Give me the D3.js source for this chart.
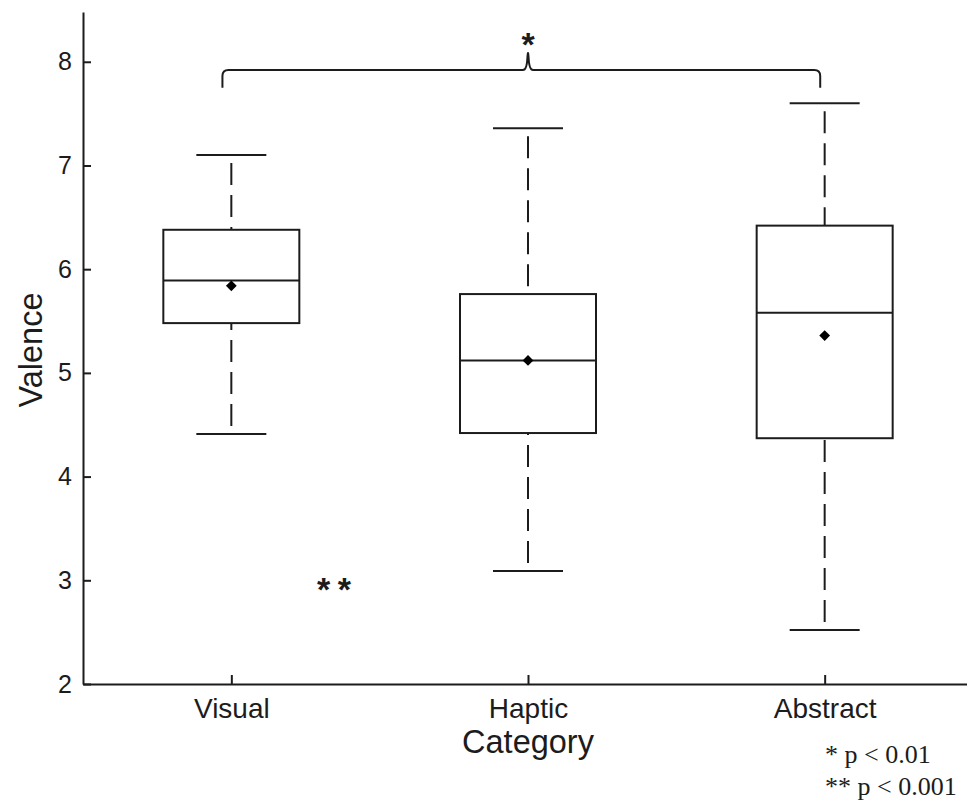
<!DOCTYPE html>
<html>
<head>
<meta charset="utf-8">
<script src="https://cdn.jsdelivr.net/npm/d3@7"></script>
<style>
  html, body { margin: 0; padding: 0; background: #fff; }
  svg { display: block; }
  text { font-family: "Liberation Sans", Arial, Helvetica, sans-serif; fill: #1c1c1c; }
  .note { font-family: "Liberation Serif", "Times New Roman", serif; }
  .star { font-weight: bold; font-size: 34px; }
</style>
</head>
<body>
<svg id="chart" width="967" height="804"></svg>
<script>
// Category labels and box-plot summary statistics (valence ratings)
const categories = ["Visual", "Haptic", "Abstract"];
const whiskerLow  = [4.41, 3.09, 2.52];
const quartile1   = [5.48, 4.42, 4.37];
const medians     = [5.89, 5.12, 5.58];
const quartile3   = [6.38, 5.76, 6.42];
const whiskerHigh = [7.10, 7.36, 7.60];
const means       = [5.84, 5.12, 5.36];

const yTicks = [2, 3, 4, 5, 6, 7, 8];

// Significance annotations
const bracketSpan = [0.97, 2.0, 2.985];   // left end, centre, right end (category units)
const bracketLevels = [7.75, 7.92, 8.09]; // foot, bar, peak (valence units)
const bracketLabel = "*";
const bracketLabelLevel = 8.21;
const pairLabel = "**";
const pairLabelPos = [1.346, 2.95];
const notes = ["* p < 0.01", "** p < 0.001"];

const svg = d3.select("#chart");
const ink = "#1c1c1c";

const x = d3.scaleLinear().domain([0.5, 3.5]).range([83, 973]);
const y = d3.scaleLinear().domain([2, 8.48]).range([684, 12]);

// Axes: ticks point inward
const yAxis = d3.axisLeft(y).tickValues(yTicks).tickFormat(d3.format("d"))
  .tickSizeInner(-8).tickSizeOuter(0).tickPadding(11);
const xAxis = d3.axisBottom(x).tickValues([1, 2, 3]).tickFormat((d) => categories[d - 1])
  .tickSizeInner(-9).tickSizeOuter(0).tickPadding(14);

const gy = svg.append("g").attr("transform", `translate(${x(0.5)},0)`).call(yAxis);
gy.selectAll("text").style("font-size", "25px").attr("fill", ink);
const gx = svg.append("g").attr("transform", `translate(0,${y(2)})`).call(xAxis);
gx.selectAll("text").style("font-size", "28px").attr("fill", ink);
[gx, gy].forEach((g) => {
  g.select(".domain").attr("stroke", ink).attr("stroke-width", 2);
  g.selectAll(".tick line").attr("stroke", ink).attr("stroke-width", 2);
});

// Axis titles
svg.append("text").attr("x", x(2)).attr("y", 753)
  .attr("text-anchor", "middle").style("font-size", "32.5px").text("Category");
svg.append("text").attr("transform", `translate(42,${(y(2) + y(8.48)) / 2 + 2}) rotate(-90)`)
  .attr("text-anchor", "middle").style("font-size", "32.5px").text("Valence");

// Box plots
const boxHalf = 68, capHalf = 35;
const rows = categories.map((c, i) => ({
  pos: i + 1, lo: whiskerLow[i], q1: quartile1[i], med: medians[i],
  q3: quartile3[i], hi: whiskerHigh[i], mean: means[i]
}));

const g = svg.append("g").attr("stroke", ink).attr("stroke-width", 2).attr("fill", "none");
rows.forEach((r) => {
  const cx = x(r.pos);
  // dashed whiskers, drawn from cap towards the box
  [[r.hi, r.q3], [r.lo, r.q1]].forEach(([from, to]) => {
    g.append("line").attr("x1", cx).attr("x2", cx)
      .attr("y1", y(from)).attr("y2", y(to))
      .attr("stroke-dasharray", "22 10").attr("stroke-dashoffset", 24);
  });
  // whisker caps
  [r.hi, r.lo].forEach((v) => {
    g.append("line").attr("x1", cx - capHalf).attr("x2", cx + capHalf)
      .attr("y1", y(v)).attr("y2", y(v));
  });
  // box
  g.append("rect").attr("x", cx - boxHalf).attr("width", 2 * boxHalf)
    .attr("y", y(r.q3)).attr("height", y(r.q1) - y(r.q3)).attr("fill", "#fff");
  // median
  g.append("line").attr("x1", cx - boxHalf).attr("x2", cx + boxHalf)
    .attr("y1", y(r.med)).attr("y2", y(r.med));
  // mean marker
  svg.append("path").attr("d", d3.symbol(d3.symbolSquare, 58)())
    .attr("transform", `translate(${cx},${y(r.mean)}) rotate(45)`)
    .attr("fill", "#000");
});

// Bracket between Visual and Abstract
const [bx0, bxc, bx1] = bracketSpan.map(x);
const [yFoot, yBar, yPeak] = bracketLevels.map(y);
const rad = 6;
const p = d3.path();
p.moveTo(bx0, yFoot);
p.lineTo(bx0, yBar + rad);
p.quadraticCurveTo(bx0, yBar, bx0 + rad, yBar);
p.lineTo(bxc - 5, yBar);
p.quadraticCurveTo(bxc - 1, yBar, bxc - 0.5, yPeak + 4);
p.lineTo(bxc, yPeak);
p.lineTo(bxc + 0.5, yPeak + 4);
p.quadraticCurveTo(bxc + 1, yBar, bxc + 5, yBar);
p.lineTo(bx1 - rad, yBar);
p.quadraticCurveTo(bx1, yBar, bx1, yBar + rad);
p.lineTo(bx1, yFoot);
svg.append("path").attr("d", p.toString()).attr("fill", "none")
  .attr("stroke", ink).attr("stroke-width", 2);

// Asterisk glyphs sit above the baseline; offset so the glyph centre lands on the level
const starRise = 0.46 * 34;
svg.append("text").attr("class", "star").attr("x", bxc).attr("y", y(bracketLabelLevel) + starRise)
  .attr("text-anchor", "middle").text(bracketLabel);

svg.append("text").attr("class", "star")
  .attr("x", x(pairLabelPos[0])).attr("y", y(pairLabelPos[1]) + starRise)
  .attr("text-anchor", "middle").attr("textLength", 34).attr("lengthAdjust", "spacing")
  .text(pairLabel);

// Significance legend
notes.forEach((t, i) => {
  svg.append("text").attr("class", "note").attr("x", 825).attr("y", 763 + i * 32)
    .style("font-size", "26px").attr("fill", "#000").text(t);
});
</script>
</body>
</html>
